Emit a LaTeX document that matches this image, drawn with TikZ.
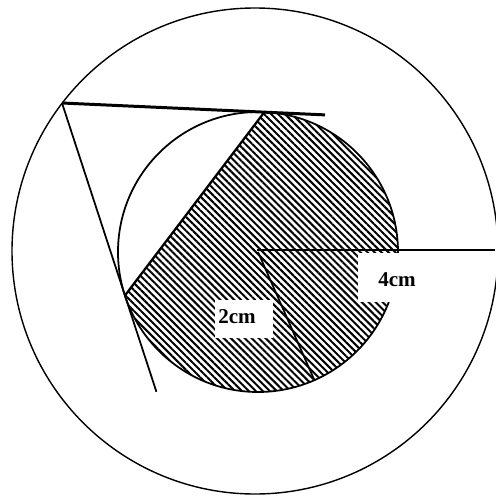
\documentclass[tikz,border=0pt]{standalone}
\usepackage{fontspec}
\setmainfont{Liberation Serif}
\usetikzlibrary{patterns.meta,calc}
\begin{document}
\begin{tikzpicture}[x=0.02cm,y=-0.02cm,
  thinline/.style={line width=0.8pt},
  thickline/.style={line width=1.4pt},
  hatch/.style={pattern={Lines[angle=-45,distance=2.8pt,line width=1.15pt]}},
  lab/.style={font=\bfseries\fontsize{12}{14}\selectfont, inner sep=0pt}]
\useasboundingbox (0,0) rectangle (495,497);
\coordinate (O) at (255,251);
\coordinate (C) at (258,252);
\coordinate (P) at (62,103);
\coordinate (T1) at ($(C)+(-87.41:140)$);
\coordinate (T2) at ($(C)+(161.89:140)$);
\coordinate (H0) at (257,250);
\coordinate (H1) at (398,250);
\coordinate (H2) at (495,250);
\coordinate (R) at ($(C)+(66.25:139)$);
% hatched segment
\fill[hatch] (T1) -- (T2) arc[start angle=161.89,end angle=-87.41,radius=140] -- cycle;
% circles
\draw[thinline] (O) circle[radius=243];
\draw[line width=1pt] (C) circle[radius=140];
% chord and tangents
\draw[line width=1.3pt] (T1) -- (T2);
\draw[line width=1.7pt] (P) -- ($(P)!1.3!(T1)$);
\draw[line width=1pt] (P) -- ($(P)!1.5!(T2)$);
% radii
\draw[thickline] (H0) -- (H1);
\draw[thinline] (H1) -- (H2);
\draw[line width=1pt] (C) -- (R);
% labels
\fill[white] (215,300) rectangle (273,338);
\node[lab] (l2) at (237,317) {2cm};
\fill[white] (358,253) rectangle (420,302);
\node[lab] (l4) at (397,280) {4cm};
\end{tikzpicture}
\end{document}
